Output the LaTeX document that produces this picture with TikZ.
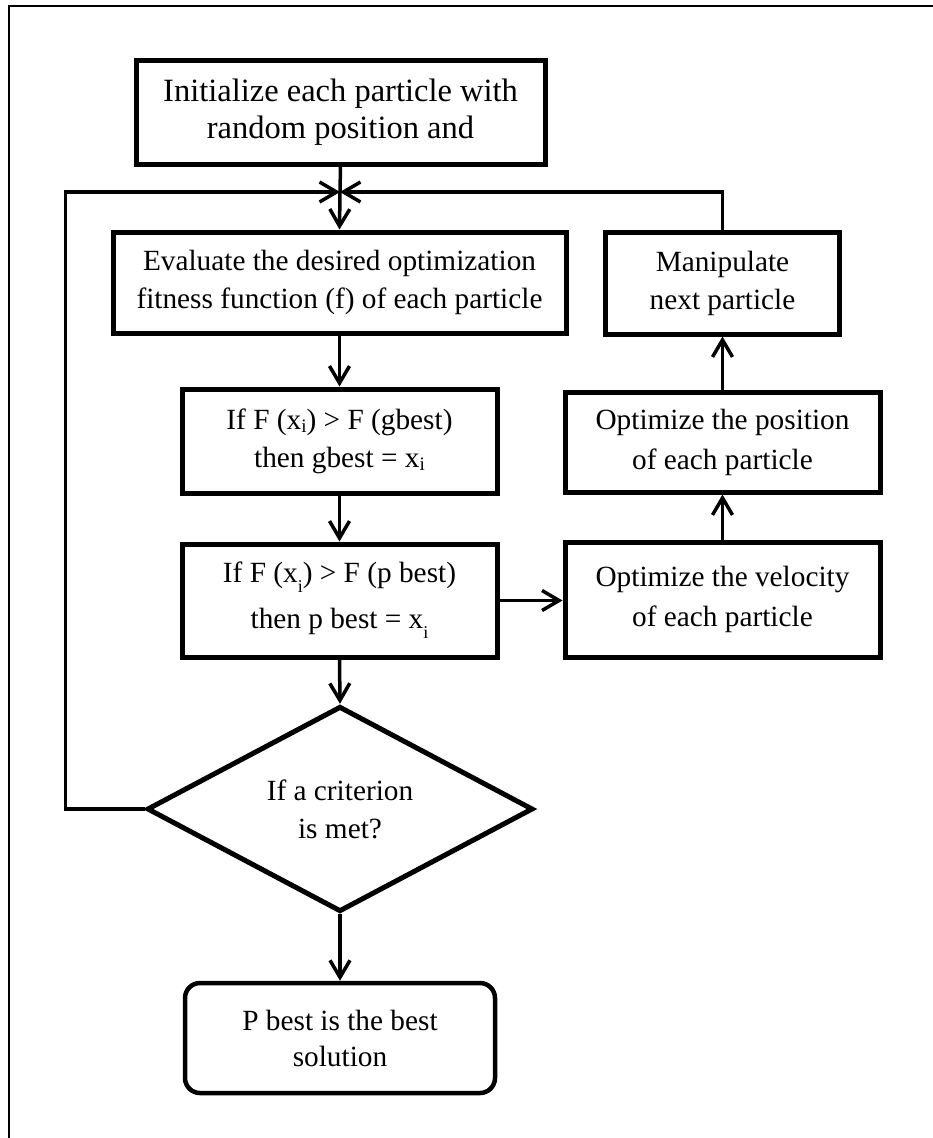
\documentclass[tikz,border=0pt]{standalone}
\usepackage{fontspec}
\setmainfont{Liberation Serif}
\usetikzlibrary{arrows.meta,shapes.geometric}
\newcommand\lowsub[1]{\raisebox{-0.33em}{\fontsize{18}{18}\selectfont #1}}
\newcommand\hisub[1]{\raisebox{-0.1em}{\fontsize{19}{19}\selectfont #1}}
\begin{document}
\begin{tikzpicture}[x=1pt,y=-1pt,
  box/.style={draw, line width=5pt, rectangle, inner sep=0pt, align=center,
    font=\fontsize{29.3}{38}\selectfont},
  conn/.style={line width=3.5pt, -{Straight Barb[length=17pt,width=20pt]}},
  plain/.style={line width=3.5pt}]
\useasboundingbox (0,0) rectangle (933,1138);
\clip (0,0) rectangle (933,1138);
\draw[line width=2pt] (9,1170) -- (9,6) -- (960,6);

\node[box, minimum width=409pt, minimum height=104pt,
  font=\fontsize{32.5}{37}\selectfont] (init) at (340.5,112)
  {Initialize each particle with\\random position and};
\node[box, minimum width=453pt, minimum height=101pt] (eval) at (339.5,282.5)
  {Evaluate the desired optimization\\fitness function (f) of each particle};
\node[box, minimum width=234pt, minimum height=102pt] (manip) at (722.5,283)
  {Manipulate\\next particle};
\node[box, minimum width=315pt, minimum height=104pt] (gbest) at (339.5,441)
  {If F (x\hisub{i}) > F (gbest)\\then gbest = x\hisub{i}};
\node[box, minimum width=315pt, minimum height=113pt,
  font=\fontsize{29.3}{46}\selectfont] (pbest) at (339.5,600.5)
  {If F (x\lowsub{i}) > F (p best)\\then p best = x\lowsub{i}};
\node[box, minimum width=315pt, minimum height=100pt,
  font=\fontsize{29.3}{40}\selectfont] (pos) at (722.5,442)
  {Optimize the position\\of each particle};
\node[box, minimum width=315pt, minimum height=115pt,
  font=\fontsize{29.3}{40}\selectfont] (vel) at (722.5,599.5)
  {Optimize the velocity\\of each particle};
\node[draw, diamond, line width=5pt, minimum width=386pt, minimum height=194pt,
  inner sep=0pt, align=center, font=\fontsize{29.3}{38}\selectfont] (dia) at (340,809)
  {If a criterion\\is met?};
\node[box, line width=4.5pt, rounded corners=15pt, minimum width=310pt,
  minimum height=110pt, font=\fontsize{29.3}{36}\selectfont] (fin) at (340,1038)
  {P best is the best\\solution};

\coordinate (m) at (340,192);
\draw[plain] (init.south) -- (m);
\draw[conn] (dia.west) -- ++(-79,0) |- (m);
\draw[conn] (manip.north) |- (m);
\draw[conn] (m) -- (eval.north);
\draw[conn] (eval.south) -- (gbest.north);
\draw[conn] (gbest.south) -- (pbest.north);
\draw[conn] (pbest.east) -- (pbest.east -| vel.west);
\draw[conn] (vel.north) -- (pos.south);
\draw[conn] (pos.north) -- (manip.south);
\draw[conn] (pbest.south) -- (dia.north);
\draw[conn] (dia.south) -- (fin.north);
\end{tikzpicture}
\end{document}
